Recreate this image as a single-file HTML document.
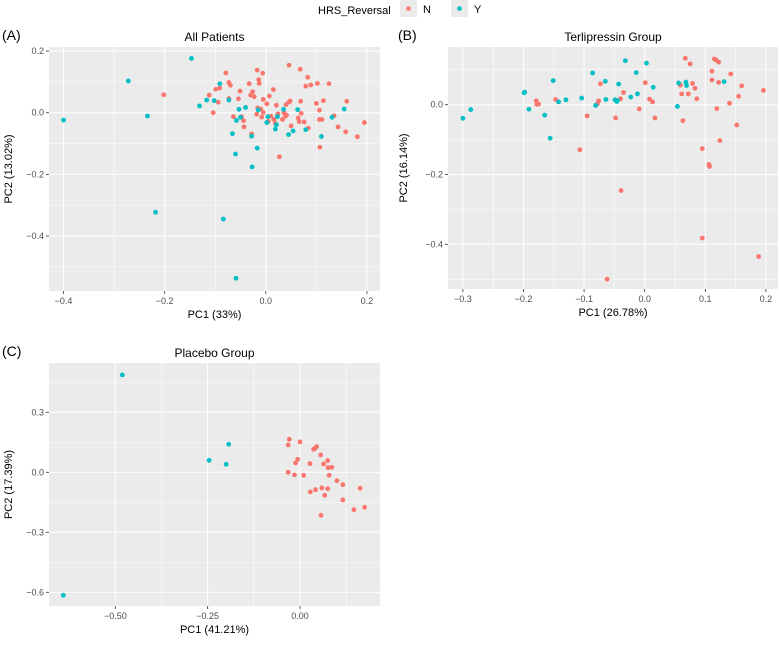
<!DOCTYPE html>
<html><head><meta charset="utf-8"><style>
html,body{margin:0;padding:0;background:#fff;}
svg text{font-family:"Liberation Sans",sans-serif;}
</style></head><body>
<svg id="fig" width="779" height="643" viewBox="0 0 779 643" xmlns="http://www.w3.org/2000/svg">
<g>
<text x="318" y="14" font-size="11" fill="#000">HRS_Reversal</text>
<rect x="400" y="0" width="17" height="17" fill="#ebebeb"/>
<circle cx="408.5" cy="8.5" r="2.3" fill="#F8766D"/>
<text x="423" y="13" font-size="11">N</text>
<rect x="451" y="0" width="17" height="17" fill="#ebebeb"/>
<circle cx="459.5" cy="8.5" r="2.3" fill="#00BFC4"/>
<text x="474" y="13" font-size="11">Y</text>
</g>
</svg>
<script>
// Panel A data
const aNx=[-0.202,-0.112,-0.104,-0.094,-0.099,-0.091,-0.079,-0.073,-0.070,-0.073,-0.064,-0.054,-0.051,-0.048,-0.044,-0.043,-0.033,-0.030,-0.028,-0.026,-0.023,-0.018,-0.017,-0.016,-0.014,-0.013,-0.015,-0.010,-0.008,-0.006,-0.005,-0.005,0.002,0.005,0.007,0.010,0.015,0.016,0.019,0.021,0.023,0.024,0.027,0.033,0.036,0.039,0.041,0.040,0.046,0.046,0.048,0.050,0.064,0.066,0.068,0.069,0.070,0.076,0.079,0.083,0.084,0.089,0.100,0.102,0.106,0.106,0.107,0.111,0.114,0.135,0.143,0.160,0.158,0.181,0.195,0.125];
const aNy=[0.058,0.057,0,0.034,0.076,0.080,0.129,0.098,0.089,0.046,-0.013,0.045,0.070,-0.013,-0.026,-0.046,0.094,0.057,-0.069,0.068,0.052,-0.005,0.138,0.015,0.107,0.095,0.009,0.012,-0.014,0.128,0.001,0.043,0.029,-0.028,0.054,-0.011,0.075,-0.022,-0.035,0.024,-0.009,-0.004,-0.143,-0.022,0,-0.011,-0.008,0.026,0.154,0.035,0.038,-0.043,-0.017,-0.029,0.141,0.037,-0.002,-0.030,0.086,0.115,-0.050,0.090,0.030,0.095,0.008,-0.022,-0.112,-0.022,0.039,-0.010,-0.046,0.037,-0.062,-0.078,-0.032,0.094];
const aYx=[-0.400,-0.272,-0.234,-0.218,-0.147,-0.131,-0.117,-0.102,-0.091,-0.073,-0.066,-0.060,-0.059,-0.058,-0.053,-0.050,-0.040,-0.084,-0.028,-0.027,-0.017,-0.015,0.002,0.004,0.019,0.021,0.023,0.035,0.045,0.054,0.063,0.079,0.110,0.131,0.155];
const aYy=[-0.024,0.103,-0.011,-0.323,0.176,0.022,0.041,0.039,0.094,0.041,-0.068,-0.134,-0.537,-0.025,0.011,-0.015,0.017,-0.345,-0.076,-0.176,-0.115,0.009,-0.032,-0.013,-0.053,-0.039,-0.013,0.011,-0.071,-0.059,0.010,-0.055,-0.077,-0.015,0.012];
const aXTicks=[-0.4,-0.2,0.0,0.2];
const aXLabels=["−0.4","−0.2","0.0","0.2"];
const aYTicks=[0.2,0.0,-0.2,-0.4];
const aYLabels=["0.2","0.0","−0.2","−0.4"];
// Panel B data
const bNx=[-0.179,-0.178,-0.175,-0.147,-0.095,-0.107,-0.076,-0.078,-0.073,-0.062,-0.048,-0.040,-0.039,-0.035,-0.009,0.001,0.008,0.013,0.017,0.067,0.075,0.059,0.061,0.063,0.072,0.079,0.083,0.086,0.095,0.095,0.106,0.107,0.111,0.111,0.115,0.118,0.122,0.122,0.119,0.124,0.140,0.142,0.155,0.152,0.160,0.188,0.196];
const bNy=[0.011,0.001,0.002,0.015,-0.032,-0.129,0.011,0.003,0.060,-0.500,-0.038,0.017,-0.246,0.035,-0.012,0.063,0.016,0.008,-0.038,0.133,0.117,0.056,0.031,-0.046,0.031,0.061,0.047,0.017,-0.126,-0.382,-0.171,-0.177,0.071,0.096,0.131,0.128,0.122,0.064,-0.011,-0.103,0.004,0.088,0.024,-0.058,0.054,-0.435,0.041];
const bYx=[-0.300,-0.287,-0.199,-0.198,-0.191,-0.165,-0.151,-0.156,-0.142,-0.130,-0.104,-0.086,-0.081,-0.065,-0.064,-0.049,-0.046,-0.043,-0.032,-0.023,-0.014,-0.012,0.003,0.014,0.054,0.056,0.068,0.069,0.131,-0.045];
const bYy=[-0.039,-0.014,0.034,0.036,-0.013,-0.030,0.069,-0.096,0.008,0.014,0.019,0.091,-0.002,0.067,0.015,0.014,0.009,0.059,0.126,0.022,0.092,0.031,0.119,0.050,-0.005,0.062,0.065,0.055,0.066,0.012];
const bXTicks=[-0.3,-0.2,-0.1,0.0,0.1,0.2];
const bXLabels=["−0.3","−0.2","−0.1","0.0","0.1","0.2"];
const bYTicks=[0.0,-0.2,-0.4];
const bYLabels=["0.0","−0.2","−0.4"];
// Panel C data
const cNx=[-0.032,-0.029,0,-0.032,-0.012,-0.006,-0.015,0.010,0.027,0.028,0.037,0.041,0.045,0.042,0.056,0.059,0.064,0.067,0.075,0.076,0.075,0.079,0.086,0.057,0.100,0.116,0.116,0.146,0.163,0.175];
const cNy=[0.137,0.165,0.152,0,0.047,0.065,-0.013,-0.015,0.043,-0.098,0.115,0.120,0.128,-0.087,0.087,-0.078,0.042,-0.115,0.058,0.023,-0.082,-0.015,0.025,-0.215,-0.042,-0.062,-0.138,-0.187,-0.080,-0.175];
const cYx=[-0.641,-0.481,-0.246,-0.193,-0.200];
const cYy=[-0.615,0.487,0.060,0.140,0.040];
const cXTicks=[-0.5,-0.25,0.0];
const cXLabels=["−0.50","−0.25","0.00"];
const cYTicks=[0.3,0.0,-0.3,-0.6];
const cYLabels=["0.3","0.0","−0.3","−0.6"];

const NS="http://www.w3.org/2000/svg";
const svg=document.getElementById('fig');
function mk(tag,attrs,parent){const e=document.createElementNS(NS,tag);for(const k in attrs)e.setAttribute(k,attrs[k]);parent.appendChild(e);return e;}

function panel(cfg){
  const g=mk('g',{},svg);
  
  
  const sx=v=>cfg.x0+v*cfg.kx, sy=v=>cfg.y0-v*cfg.ky;
  const bg=mk('rect',{x:cfg.L,y:cfg.T,width:cfg.R-cfg.L,height:cfg.B-cfg.T,fill:'#ebebeb'},g);
  
  
  cfg.xMinor.forEach(v=>{const l=mk('line',{x1:sx(v),x2:sx(v),y1:cfg.T,y2:cfg.B,stroke:'#fff','stroke-width':0.5},g);});
  cfg.yMinor.forEach(v=>{const l=mk('line',{y1:sy(v),y2:sy(v),x1:cfg.L,x2:cfg.R,stroke:'#fff','stroke-width':0.5},g);});
  cfg.xt.forEach((v,i)=>{
    const l=mk('line',{x1:sx(v),x2:sx(v),y1:cfg.T,y2:cfg.B,stroke:'#fff','stroke-width':1},g);
    
    
    mk('line',{x1:sx(v),x2:sx(v),y1:cfg.B,y2:cfg.B+3,stroke:'#333','stroke-width':0.8},g);
    const t=mk('text',{x:sx(v),y:cfg.B+13,'font-size':9,fill:'#4d4d4d','text-anchor':'middle'},g);
    t.textContent=cfg.xl[i];
    
    
  });
  cfg.yt.forEach((v,i)=>{
    const l=mk('line',{y1:sy(v),y2:sy(v),x1:cfg.L,x2:cfg.R,stroke:'#fff','stroke-width':1},g);
    
    
    mk('line',{y1:sy(v),y2:sy(v),x1:cfg.L-3,x2:cfg.L,stroke:'#333','stroke-width':0.8},g);
    const t=mk('text',{x:cfg.L-5,y:sy(v)+3,'font-size':9,fill:'#4d4d4d','text-anchor':'end'},g);
    t.textContent=cfg.yl[i];
    
    
  });
  const draw=(xs,ys,col,nm)=>xs.forEach((v,i)=>{
    const c=mk('circle',{cx:sx(v),cy:sy(ys[i]),r:2.4,fill:col},g);
    
    
  });
  draw(cfg.nx,cfg.ny,'#F8766D','point-n');
  draw(cfg.yx,cfg.yy,'#00BFC4','point-y');
  const cx=(cfg.L+cfg.R)/2, cy=(cfg.T+cfg.B)/2;
  const tt=mk('text',{x:cx,y:cfg.T-6,'font-size':12,'text-anchor':'middle'},g);
  tt.textContent=cfg.title;
  
  
  const tg=mk('text',{x:cfg.tagX,y:cfg.T-7,'font-size':14},g);
  tg.textContent=cfg.tag;
  
  
  const xa=mk('text',{x:cx,y:cfg.B+27,'font-size':11,'text-anchor':'middle'},g);
  xa.textContent=cfg.xTitle;
  
  
  const ya=mk('text',{x:cfg.yTitleX,y:cy,'font-size':11,'text-anchor':'middle',transform:`rotate(-90 ${cfg.yTitleX} ${cy})`},g);
  ya.textContent=cfg.yTitle;
  
  
}

panel({name:'panel-all-patients',L:49,R:380,T:47,B:291,x0:265.8,kx:505.6,y0:112.7,ky:308.3,
  xt:aXTicks,xl:aXLabels,yt:aYTicks,yl:aYLabels,xMinor:[-0.3,-0.1,0.1],yMinor:[0.1,-0.1,-0.3,-0.5],
  nx:aNx,ny:aNy,yx:aYx,yy:aYy,title:'All Patients',tag:'(A)',tagX:2,xTitle:'PC1 (33%)',yTitle:'PC2 (13.02%)',yTitleX:12});
panel({name:'panel-terlipressin',L:448,R:778,T:47,B:289,x0:644.7,kx:606,y0:104.7,ky:349,
  xt:bXTicks,xl:bXLabels,yt:bYTicks,yl:bYLabels,xMinor:[-0.25,-0.15,-0.05,0.05,0.15],yMinor:[0.1,-0.1,-0.3,-0.5],
  nx:bNx,ny:bNy,yx:bYx,yy:bYy,title:'Terlipressin Group',tag:'(B)',tagX:398,xTitle:'PC1 (26.78%)',yTitle:'PC2 (16.14%)',yTitleX:407});
panel({name:'panel-placebo',L:49,R:380,T:363,B:606,x0:300,kx:369.3,y0:472.3,ky:200,
  xt:cXTicks,xl:cXLabels,yt:cYTicks,yl:cYLabels,xMinor:[-0.375,-0.125,0.125],yMinor:[0.45,0.15,-0.15,-0.45],
  nx:cNx,ny:cNy,yx:cYx,yy:cYy,title:'Placebo Group',tag:'(C)',tagX:2,xTitle:'PC1 (41.21%)',yTitle:'PC2 (17.39%)',yTitleX:12});
</script>
</body></html>
